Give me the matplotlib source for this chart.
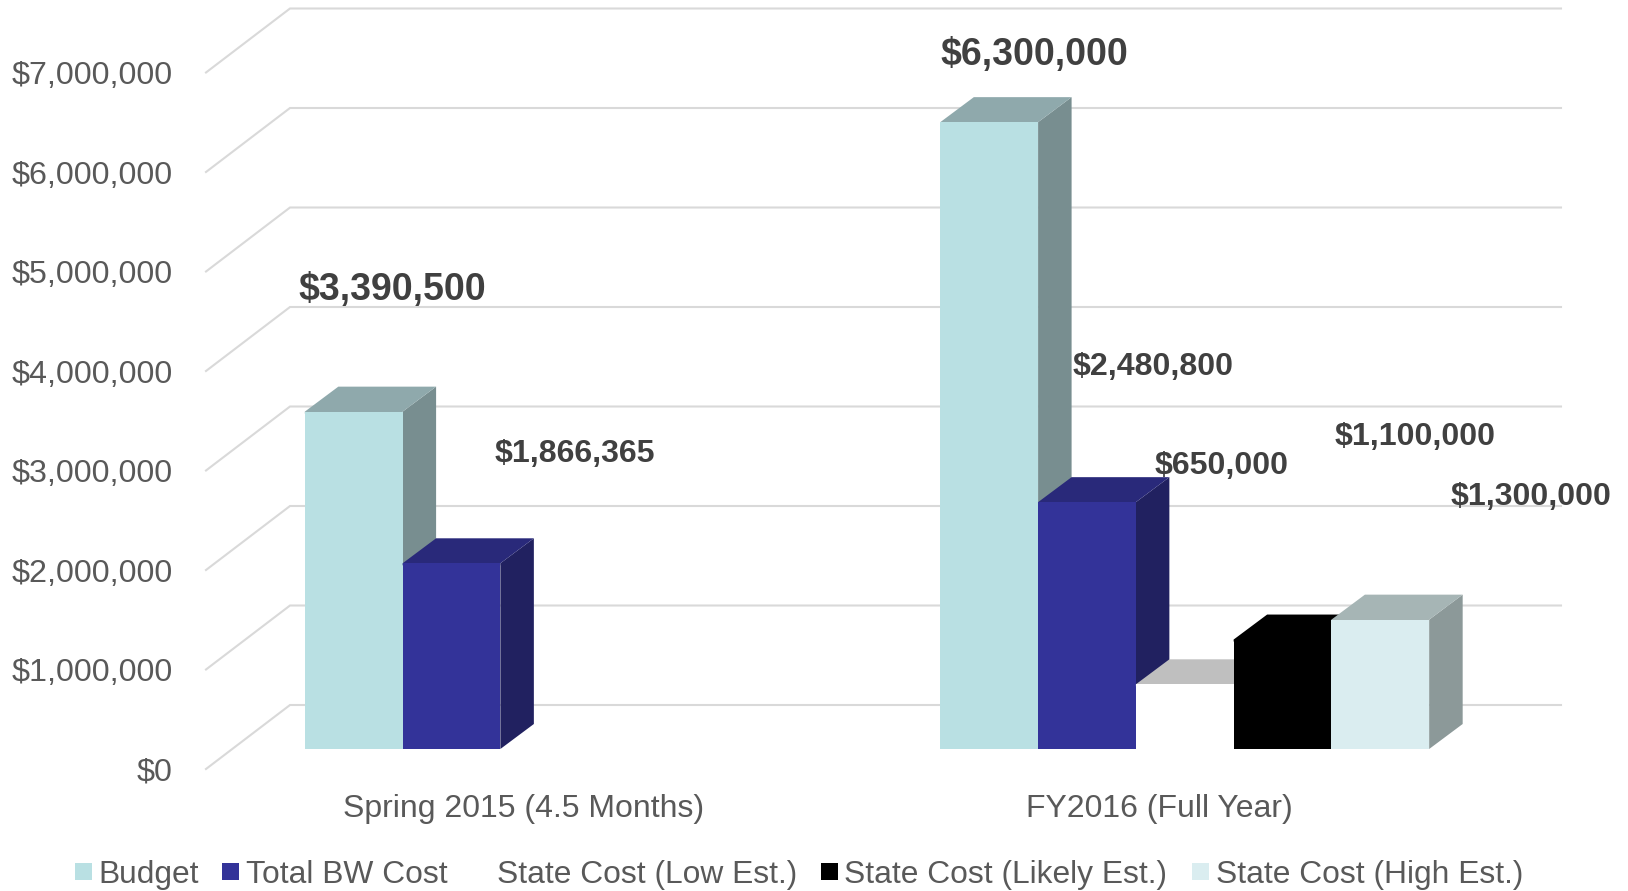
import numpy as np
import matplotlib
matplotlib.use('Agg')
import matplotlib.pyplot as plt
from matplotlib.patches import Polygon, Rectangle

plt.rcParams['font.family'] = ['Liberation Sans', 'DejaVu Sans']

# data
categories = ['Spring 2015 (4.5 Months)', 'FY2016 (Full Year)']
series_names = ['Budget', 'Total BW Cost', 'State Cost (Low Est.)',
                'State Cost (Likely Est.)', 'State Cost (High Est.)']
budget = [3390500, 6300000]
total_bw = [1866365, 2480800]
state_low = [np.nan, 650000]
state_likely = [np.nan, 1100000]
state_high = [np.nan, 1300000]
y_ticks = [0, 1000000, 2000000, 3000000, 4000000, 5000000, 6000000, 7000000]

series = [budget, total_bw, state_low, state_likely, state_high]
# front, top, side
front_colors = ['#B9E0E3', '#333399', '#FFFFFF', '#000000', '#DAEDF0']
top_colors = ['#8FA9AC', '#29297A', '#BFBFBF', '#000000', '#A6B5B5']
side_colors = ['#788E90', '#212160', '#FFFFFF', '#000000', '#8C9999']

W, H = 1628, 891
GREY = '#595959'
DARK = '#404040'

fig = plt.figure(figsize=(W / 100, H / 100), dpi=100)
# axes = front plane of the fake 3D box
ax = fig.add_axes([206 / W, (H - 769) / H, 1271 / W, 696.5 / H])
ax.set_xlim(-0.5, 1.5)
ax.set_ylim(0, 7000000)

# pixels to data units
px_x = 2.0 / 1271
px_y = 7000000 / 696.5

# grid lines run from the front plane to the back wall
for v in y_ticks:
    ax.plot([-0.5, -0.5 + 84 * px_x, 1.5 + 84 * px_x],
            [v, v + 64 * px_y, v + 64 * px_y],
            color='#D9D9D9', lw=1.5, clip_on=False, zorder=1, solid_joinstyle='miter')

bar_w = 1 / 6.5
shift_x = 25.5 * px_x
floor_y = 20 * px_y
deep_x = 33.5 * px_x
deep_y = 25 * px_y
tuck = 2 * px_y  # top face runs a bit under the front, hides the seam

z = 2
for i in range(len(categories)):
    for j, vals in enumerate(series):
        v = vals[i]
        if np.isnan(v):
            continue
        left = i + shift_x + (j - 2.5) * bar_w
        right = left + bar_w
        top = floor_y + v
        ax.add_patch(Polygon([(right, floor_y), (right + deep_x, floor_y + deep_y),
                              (right + deep_x, top + deep_y), (right, top)],
                             fc=side_colors[j], ec='none', clip_on=False, zorder=z))
        ax.add_patch(Polygon([(left, top - tuck), (left, top), (left + deep_x, top + deep_y),
                              (right + deep_x, top + deep_y), (right, top), (right, top - tuck)],
                             fc=top_colors[j], ec='none', clip_on=False, zorder=z + 1))
        ax.bar(left, v, bar_w, bottom=floor_y, align='edge', color=front_colors[j],
               lw=0, clip_on=False, zorder=z + 1)
        z += 2

for s in ax.spines.values():
    s.set_visible(False)
ax.set_xticks([0, 1])
ax.set_xticklabels(categories)
ax.set_yticks(y_ticks)
ax.set_yticklabels(['${:,.0f}'.format(v) for v in y_ticks])
ax.tick_params(axis='both', length=0, labelsize=23, labelcolor=GREY)
ax.tick_params(axis='y', pad=24.2, labelsize=23.2)
ax.tick_params(axis='x', pad=18)

# data labels sit away from the bars in the original
label_vals = [budget[0], total_bw[0], budget[1], total_bw[1], state_low[1], state_likely[1], state_high[1]]
label_pos = [(392, 289.5), (575, 454), (1034, 55), (1153.5, 367), (1221.5, 466), (1415, 437), (1531, 497)]
label_size = [27, 23.1, 27, 23.1, 23.1, 23.1, 23.1]
for v, (px, py), fs in zip(label_vals, label_pos, label_size):
    fig.text(px / W, 1 - py / H, '${:,.0f}'.format(v), ha='center', va='center',
             fontsize=fs, fontweight='bold', color=DARK)

# legend placed by hand, its entries are spaced unevenly
swatch_x = [75, 222, 475, 821, 1192]
text_x = [98, 245.5, 497, 844.5, 1215.5]
for name, c, sx, tx in zip(series_names, front_colors, swatch_x, text_x):
    fig.add_artist(Rectangle((sx / W, 1 - 880 / H), 17 / W, 17 / H, transform=fig.transFigure,
                             fc=c, ec='none'))
    fig.text(tx / W, 1 - 875 / H, name, ha='left', va='center', fontsize=22.9, color=GREY)

fig.savefig('out.png', dpi=100)
